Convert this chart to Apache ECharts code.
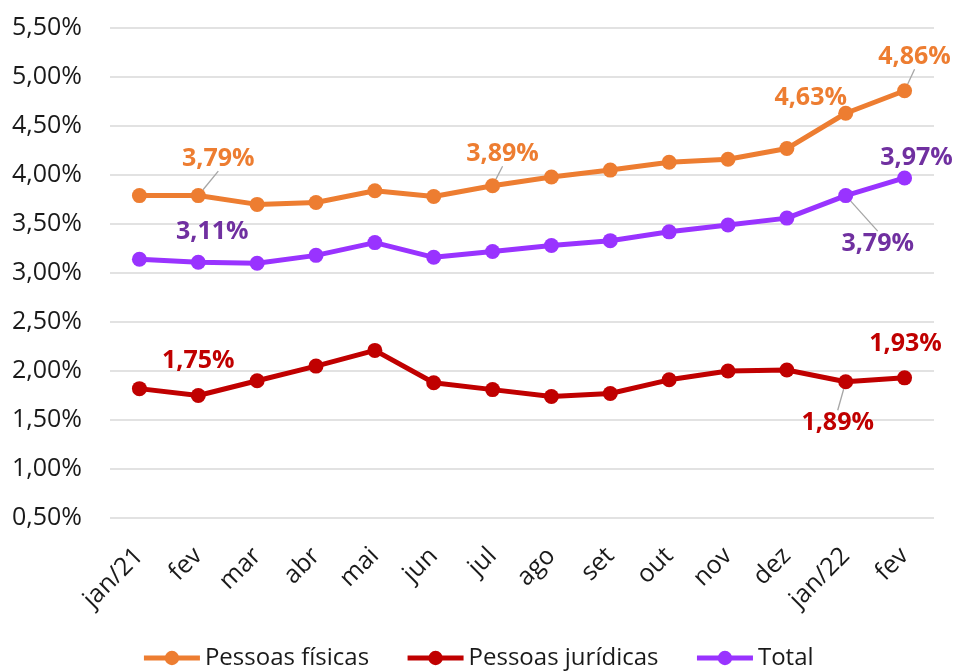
<!DOCTYPE html>
<html>
<head>
<meta charset="utf-8">
<script src="https://cdn.jsdelivr.net/npm/echarts@6/dist/echarts.min.js"></script>
<style>
  html, body { margin: 0; padding: 0; background: #fff; }
  #main { width: 955px; height: 671px; }
</style>
</head>
<body>
<div id="main"></div>
<script>
// categorias (meses)
var months = ['jan/21', 'fev', 'mar', 'abr', 'mai', 'jun', 'jul', 'ago', 'set', 'out', 'nov', 'dez', 'jan/22', 'fev'];

// valores em %
var pessoasFisicas = [3.79, 3.79, 3.70, 3.72, 3.84, 3.78, 3.89, 3.98, 4.05, 4.13, 4.16, 4.27, 4.63, 4.86];
var pessoasJuridicas = [1.82, 1.75, 1.90, 2.05, 2.21, 1.88, 1.81, 1.74, 1.77, 1.91, 2.00, 2.01, 1.89, 1.93];
var total = [3.14, 3.11, 3.10, 3.18, 3.31, 3.16, 3.22, 3.28, 3.33, 3.42, 3.49, 3.56, 3.79, 3.97];

var yMin = 0.5, yMax = 5.5, yStep = 0.5;

// quais pontos recebem rótulo: [indice, dx, dy, linha guia]
var pfLabels = [[1, 20, -37, true], [6, 10, -32, true], [12, -35, -15, false], [13, 10, -34, true]];
var pjLabels = [[1, 0, -35, false], [12, -8, 41, true], [13, 1, -34, false]];
var totLabels = [[1, 14, -30, false], [12, 32, 48, true], [13, 12, -20, false]];

function fmt(v) {
  return v.toFixed(2).replace('.', ',') + '%';
}

function findLabel(labels, i) {
  for (var k = 0; k < labels.length; k++) {
    if (labels[k][0] === i) return labels[k];
  }
  return null;
}

function buildData(values, labels, textColor) {
  return values.map(function (v, i) {
    var item = { value: v };
    var l = findLabel(labels, i);
    if (l) {
      item.label = {
        show: true,
        position: 'inside',
        color: textColor,
        fontWeight: 'bold',
        fontSize: 25,
        fontFamily: 'Open Sans',
        formatter: function (p) { return fmt(p.value); }
      };
      item.labelLine = { show: l[3], lineStyle: { color: '#A6A6A6', width: 1.3 } };
    }
    return item;
  });
}

function layoutFor(labels) {
  return function (params) {
    var l = findLabel(labels, params.dataIndex);
    if (!l) return {};
    return { dx: l[1], dy: l[2] };
  };
}

function makeSeries(name, values, labels, lineColor, textColor) {
  return {
    name: name,
    type: 'line',
    data: buildData(values, labels, textColor),
    labelLayout: layoutFor(labels),
    symbol: 'circle',
    symbolSize: 15,
    lineStyle: { color: lineColor, width: 5 },
    itemStyle: { color: lineColor }
  };
}

var myChart = echarts.init(document.getElementById('main'));
myChart.setOption({
  animation: false,
  textStyle: { fontFamily: 'Open Sans' },
  legend: {
    bottom: -4,
    left: 'center',
    itemWidth: 56,
    itemHeight: 18,
    itemGap: 36,
    lineStyle: { width: 5 },
    textStyle: { fontSize: 24, color: '#1a1a1a', fontFamily: 'Open Sans' },
    data: ['Pessoas físicas', 'Pessoas jurídicas', 'Total']
  },
  grid: {
    left: 110,
    right: 21,
    top: 28,
    bottom: 153
  },
  xAxis: {
    type: 'category',
    boundaryGap: true,
    data: months,
    axisLine: { show: false },
    axisTick: { show: false },
    axisLabel: {
      rotate: 45,
      interval: 0,
      fontSize: 25,
      color: '#1a1a1a',
      margin: 34,
      fontFamily: 'Open Sans'
    }
  },
  yAxis: {
    type: 'value',
    min: yMin,
    max: yMax,
    interval: yStep,
    axisLine: { show: false },
    axisTick: { show: false },
    splitLine: { lineStyle: { color: '#D9D9D9', width: 1.5 } },
    axisLabel: {
      fontSize: 25,
      color: '#1a1a1a',
      margin: 28,
      fontFamily: 'Open Sans',
      formatter: function (v) { return fmt(v); }
    }
  },
  series: [
    makeSeries('Pessoas físicas', pessoasFisicas, pfLabels, '#ED7D31', '#ED7D31'),
    makeSeries('Pessoas jurídicas', pessoasJuridicas, pjLabels, '#C00000', '#C00000'),
    makeSeries('Total', total, totLabels, '#9933FF', '#7030A0')
  ]
});
</script>
</body>
</html>
